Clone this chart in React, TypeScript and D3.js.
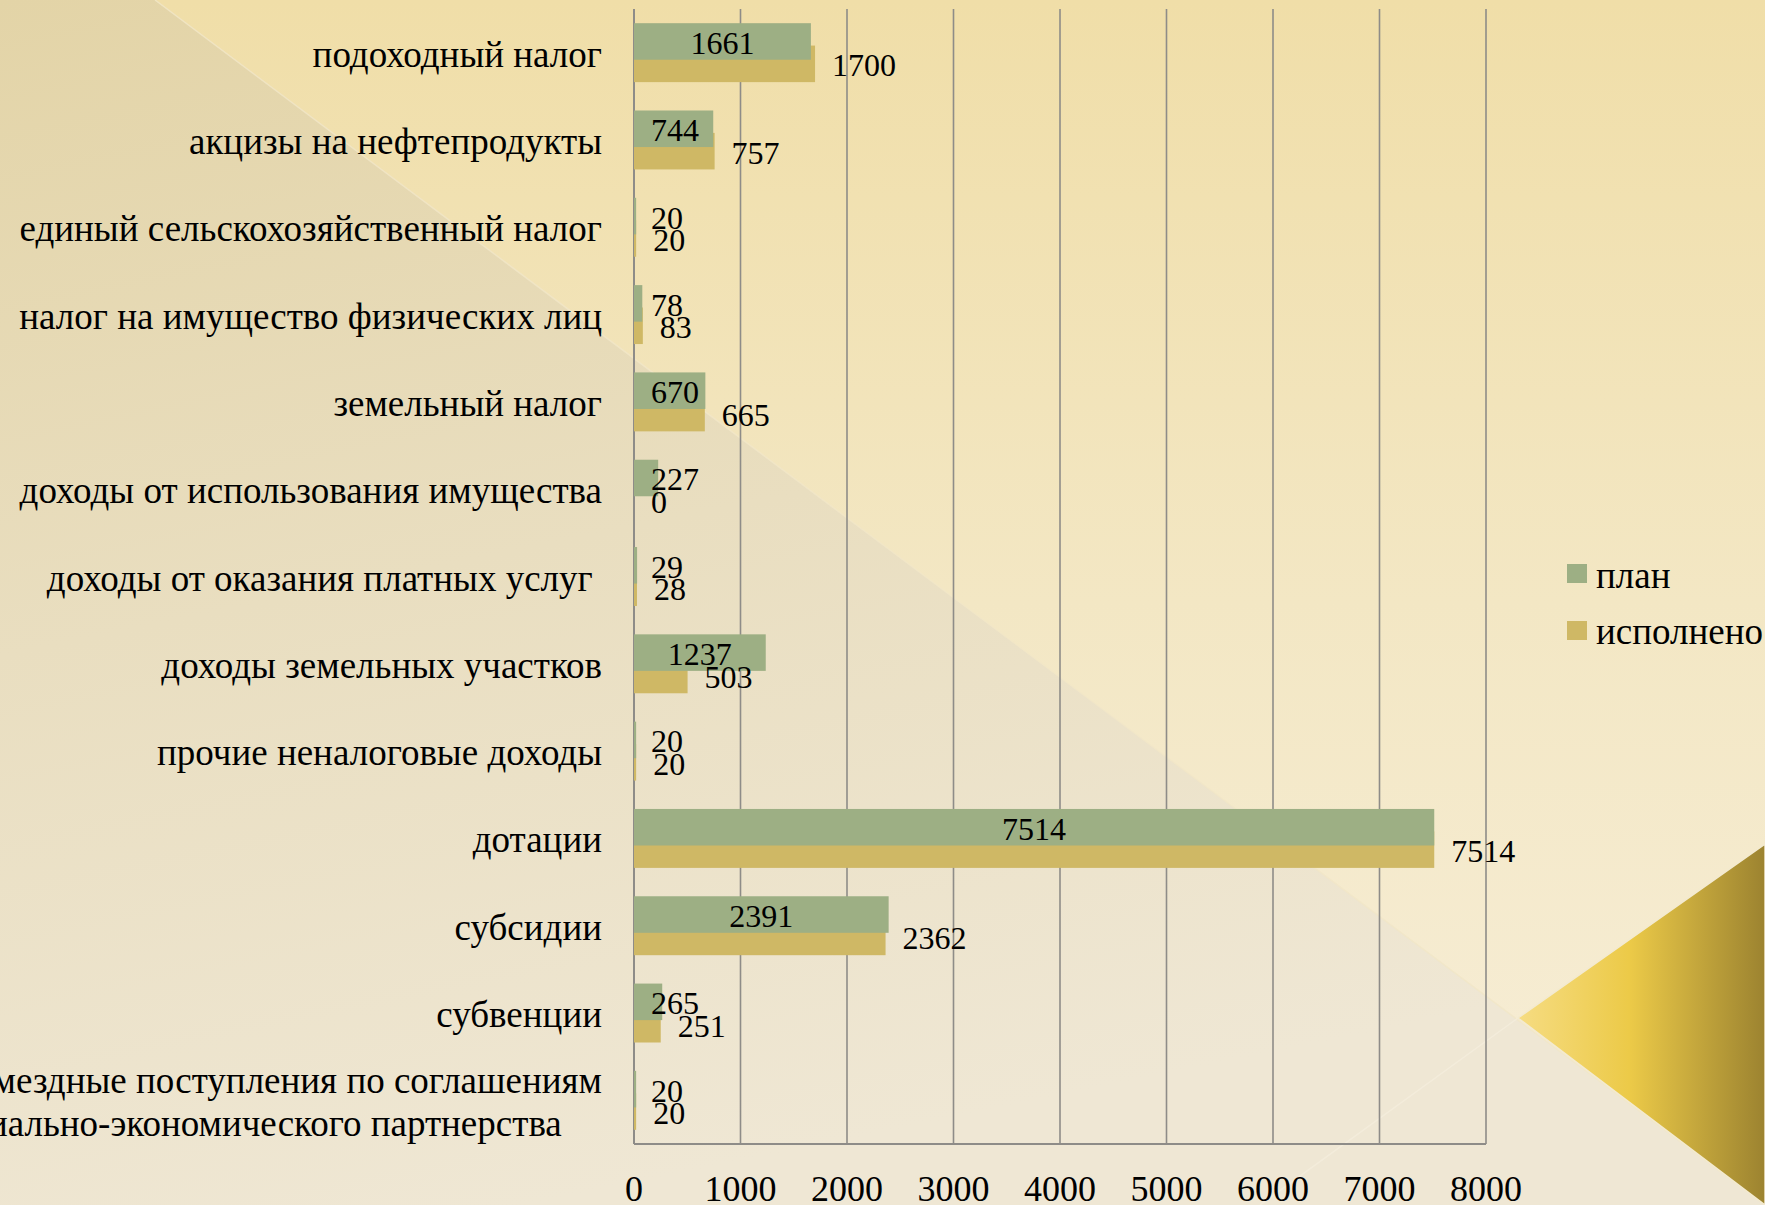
import React, { useLayoutEffect, useRef, useState } from "react";
import * as d3 from "d3";

const categories: string[][] = [
  ["подоходный налог"],
  ["акцизы на нефтепродукты"],
  ["единый сельскохозяйственный налог"],
  ["налог на имущество физических лиц"],
  ["земельный налог"],
  ["доходы от использования имущества"],
  ["доходы от оказания платных услуг "],
  ["доходы земельных участков"],
  ["прочие неналоговые доходы"],
  ["дотации"],
  ["субсидии"],
  ["субвенции"],
  ["безвозмездные поступления по соглашениям", "социально-экономического партнерства"],
];
const planValues = [1661, 744, 20, 78, 670, 227, 29, 1237, 20, 7514, 2391, 265, 20];
const doneValues = [1700, 757, 20, 83, 665, 0, 28, 503, 20, 7514, 2362, 251, 20];
const seriesNames = ["план", "исполнено"];
const xTicks = [0, 1000, 2000, 3000, 4000, 5000, 6000, 7000, 8000];

const W = 1765;
const H = 1205;
const GREEN = "#9daf84";
const GOLD = "#cfb865";
const GRID = "#8e8c88";
const FONT = "'Liberation Serif', 'Times New Roman', serif";
const DY = 1.5;

function MultiLabel({ lines, xRight, yc }: { lines: string[]; xRight: number; yc: number }) {
  const ref = useRef<SVGTSpanElement>(null);
  const [w, setW] = useState(690);
  useLayoutEffect(() => {
    if (ref.current) setW(ref.current.getComputedTextLength());
  }, []);
  const lh = 43;
  const cx = xRight - w / 2;
  return (
    <text fontFamily={FONT} fontSize={37} textAnchor="middle" fill="#000">
      {lines.map((l, i) => (
        <tspan
          key={i}
          ref={i === 0 ? ref : undefined}
          x={cx}
          y={yc + DY + (i - (lines.length - 1) / 2) * lh}
          dominantBaseline="central"
        >
          {l}
        </tspan>
      ))}
    </text>
  );
}

export default function App() {
  const x = d3.scaleLinear().domain([0, 8000]).range([634, 1486]);
  const idx = categories.map((_, i) => String(i));
  const y = d3.scaleBand().domain(idx).range([9, 1144]).paddingInner(0.325).paddingOuter(0.1625);
  const bw = y.bandwidth();
  const barH = bw * 0.62;
  const x0 = x(0);
  const top = 9;
  const bottom = 1144;
  const labelRight = 602;

  return (
    <svg width={W} height={H} style={{ position: "absolute", left: 0, top: 0 }}>
      <defs>
        <linearGradient id="bg" x1="0" y1="0" x2="0" y2="1">
          <stop offset="0" stopColor="#f0dea8" />
          <stop offset="0.5" stopColor="#f3e7c4" />
          <stop offset="1" stopColor="#f7eed8" />
        </linearGradient>
        <linearGradient id="ov" x1="0" y1="0" x2="0.3" y2="1">
          <stop offset="0" stopColor="#e3d4a7" />
          <stop offset="0.5" stopColor="#e9dec0" />
          <stop offset="1" stopColor="#efe7d4" />
        </linearGradient>
        <linearGradient id="gold" x1="1518" y1="0" x2="1765" y2="0" gradientUnits="userSpaceOnUse">
          <stop offset="0" stopColor="#f6dc82" />
          <stop offset="0.45" stopColor="#ecca48" />
          <stop offset="1" stopColor="#9c8330" />
        </linearGradient>
      </defs>
      <rect x={0} y={0} width={W} height={H} fill="url(#bg)" />
      <polygon points={`0,0 155,0 ${W},${H} 0,${H}`} fill="url(#ov)" />
      <line x1={155} y1={0} x2={W} y2={H} stroke="#f2e7c8" strokeWidth={1.5} opacity={0.8} />
      <line x1={1518} y1={1018} x2={1260} y2={1205} stroke="#f7f0e0" strokeWidth={1.5} opacity={0.6} />
      <polygon points={`1518,1018 ${W},844 ${W},${H}`} fill="url(#gold)" stroke="#f3ead0" strokeWidth={1.5} />

      {/* gridlines */}
      {xTicks.map((t) => (
        <line key={t} x1={x(t)} x2={x(t)} y1={top} y2={bottom} stroke={GRID} strokeWidth={t === 0 ? 2 : 1.6} />
      ))}
      <line x1={x0} x2={x(8000)} y1={bottom} y2={bottom} stroke={GRID} strokeWidth={2} />

      {/* bars */}
      {categories.map((_, i) => {
        const y0 = y(String(i))!;
        return (
          <g key={i}>
            <rect x={x0} y={y0 + bw - barH} width={x(doneValues[i]) - x0} height={barH} fill={GOLD} />
            <rect x={x0} y={y0} width={x(planValues[i]) - x0} height={barH} fill={GREEN} />
          </g>
        );
      })}

      {/* data labels */}
      {categories.map((_, i) => {
        const y0 = y(String(i))!;
        const pv = planValues[i];
        const dv = doneValues[i];
        const pw = String(pv).length * 16;
        const pcx = Math.max((x0 + x(pv)) / 2, x0 + 17 + pw / 2);
        return (
          <g key={i} fontFamily={FONT} fontSize={32} fill="#000">
            <text x={pcx} y={y0 + barH / 2 + DY} textAnchor="middle" dominantBaseline="central">
              {pv}
            </text>
            <text x={x(dv) + 17} y={y0 + bw - barH / 2 + DY} textAnchor="start" dominantBaseline="central">
              {dv}
            </text>
          </g>
        );
      })}

      {/* category labels */}
      {categories.map((lines, i) => {
        const yc = y(String(i))! + bw / 2;
        if (lines.length === 1) {
          return (
            <text
              key={i}
              x={labelRight}
              y={yc + DY}
              textAnchor="end"
              dominantBaseline="central"
              fontFamily={FONT}
              fontSize={37}
              style={{ whiteSpace: "pre" }}
            >
              {lines[0]}
            </text>
          );
        }
        return <MultiLabel key={i} lines={lines} xRight={labelRight} yc={yc} />;
      })}

      {/* x tick labels */}
      {xTicks.map((t) => (
        <text key={t} x={x(t)} y={1189} textAnchor="middle" dominantBaseline="central" fontFamily={FONT} fontSize={36}>
          {t}
        </text>
      ))}

      {/* legend */}
      {seriesNames.map((s, i) => (
        <g key={s}>
          <rect x={1567} y={564 + i * 57} width={20} height={19} fill={i === 0 ? GREEN : GOLD} />
          <text x={1596} y={588 + i * 56} fontFamily={FONT} fontSize={37}>
            {s}
          </text>
        </g>
      ))}
    </svg>
  );
}
